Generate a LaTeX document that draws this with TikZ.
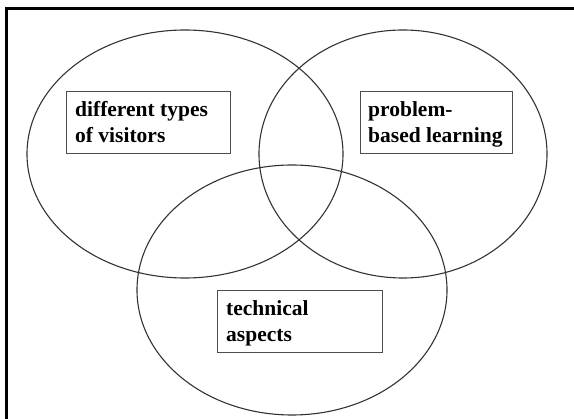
\documentclass[tikz,border=0pt]{standalone}
\usepackage{fontspec}
\setmainfont{Liberation Serif}
\usetikzlibrary{calc}
\tikzset{
  venn/.style={draw=black!80, line width=1.1pt},
  lbox/.style={draw=black!70, line width=1pt, rectangle, inner sep=0pt, anchor=north west, minimum height=62pt},
  lbl/.style={anchor=base west, inner sep=0pt, font=\fontsize{21.5pt}{26pt}\selectfont\bfseries},
  frame/.style={line width=3pt, draw=black}
}
\begin{document}
\begin{tikzpicture}[x=1pt,y=-1pt]
\useasboundingbox (0,0) rectangle (574,419);
\begin{scope}
\clip (0,0) rectangle (574,419);
\coordinate (fbl) at (6.5,430);
\coordinate (ftl) at (6.5,8.5);
\coordinate (ftr) at (590,8.5);
\draw[frame] (fbl) -- (ftl) -- (ftr);
\end{scope}
% ellipses
\draw[venn] (185,154) ellipse [x radius=158, y radius=124];
\draw[venn] (403,154) ellipse [x radius=144, y radius=124];
\draw[venn] (292,290) ellipse [x radius=155, y radius=125];
% boxes
\node[lbox, minimum width=164pt] (b1) at (66,91) {};
\node[lbox, minimum width=152pt] (b2) at (360,91) {};
\node[lbox, minimum width=165pt] (b3) at (217,290) {};
% labels
\node[lbl] (t1a) at ($(b1.north west)+(9,26)$) {different types};
\node[lbl] (t1b) at ($(b1.north west)+(9,52)$) {of visitors};
\node[lbl] (t2a) at ($(b2.north west)+(8,26)$) {problem-};
\node[lbl] (t2b) at ($(b2.north west)+(8,52)$) {based learning};
\node[lbl] (t3a) at ($(b3.north west)+(9,26)$) {technical};
\node[lbl] (t3b) at ($(b3.north west)+(9,52)$) {aspects};
\end{tikzpicture}
\end{document}
